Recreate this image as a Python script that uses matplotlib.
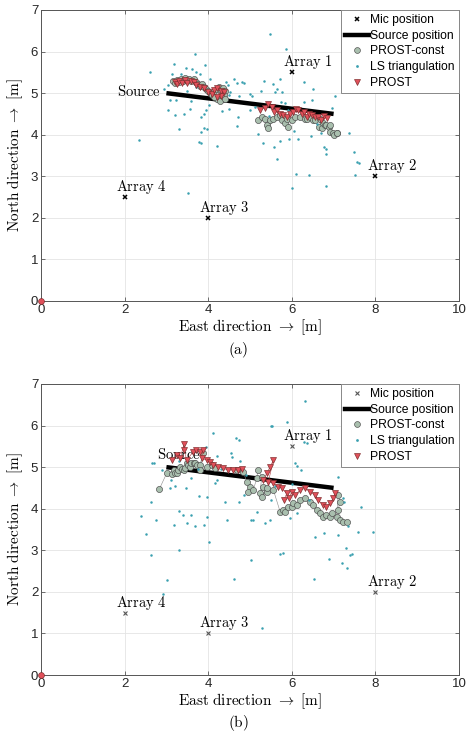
import matplotlib
matplotlib.use("Agg")
import matplotlib.pyplot as plt
import numpy as np
from matplotlib.lines import Line2D

plt.rcParams['mathtext.fontset'] = 'cm'
plt.rcParams['font.family'] = ['Liberation Sans', 'DejaVu Sans']

# ---------------- data ----------------
mic_x = [6, 8, 4, 2]
top_mic_y = [5.5, 3.0, 2.0, 2.5]
bot_mic_y = [5.5, 2.0, 1.0, 1.5]
array_names = ['Array 1', 'Array 2', 'Array 3', 'Array 4']

source_x = [3, 7]
source_y = [5.0, 4.5]

start_x = [0]
start_y = [0]

top_ls = [(5.48,6.43),(5.86,6.06),(3.68,5.94),(3.18,5.70),(3.93,5.67),(2.61,5.51),(3.46,5.61),(3.61,5.57),
          (3.72,5.51),(3.80,5.47),(3.05,5.19),(3.23,4.83),(3.09,4.83),(3.31,4.13),(2.35,3.88),(3.56,4.63),
          (3.43,4.49),(3.21,4.47),(3.82,4.42),(3.95,4.59),(3.91,4.51),(3.91,4.17),(3.98,4.13),(3.79,3.82),
          (3.83,3.79),(4.20,3.72),(3.52,2.59),(4.61,5.34),(4.68,5.25),(4.86,5.25),(4.43,5.26),(4.73,4.92),
          (4.99,4.98),(4.71,4.42),(4.70,4.21),(5.13,4.67),(5.27,5.06),(5.33,5.29),(5.54,5.23),(5.71,5.35),
          (5.61,5.03),(5.64,5.09),(5.77,5.03),(5.75,4.79),(5.84,4.76),(6.28,5.27),(6.48,4.83),(6.29,4.78),
          (7.03,4.93),(5.18,4.02),(5.31,3.81),(5.57,3.71),(5.65,3.41),(5.72,3.85),(5.93,3.89),(6.15,3.89),
          (6.09,3.05),(6.40,3.02),(6.00,2.72),(6.47,3.97),(6.83,2.76),(6.77,3.71),(6.81,3.65),(6.83,3.53),
          (7.38,4.05),(7.49,3.59),(7.55,3.35),(7.61,3.31),(7.50,3.03),(6.51,5.09),(3.35,5.45),(3.50,5.05),
          (3.70,5.15),(4.05,5.35),(4.50,4.95),(5.00,4.60),(5.45,4.45),(6.05,4.10),(6.60,4.25),(6.95,4.65),
          (3.05,4.60),(2.95,5.10),(3.60,4.80),(3.14,5.45),(4.50,4.62),(5.05,4.92),(5.90,4.60),(6.70,4.05),
          (3.83,4.07),(4.32,4.57),(4.03,4.71),(4.80,5.27),(4.52,5.03),(4.48,5.19)]
top_ls_x = [p[0] for p in top_ls]
top_ls_y = [p[1] for p in top_ls]

top_const_x = [3.15,3.20,3.25,3.30,3.35,3.40,3.45,3.50,3.55,3.60,3.65,3.70,3.75,3.80,3.85,3.90,3.95,4.00,
               4.05,4.10,4.15,4.20,4.25,4.30,4.35,4.40,4.38,4.30,4.22,4.15,4.28,4.40,
               5.20,5.28,5.36,5.40,5.48,5.44,5.56,5.64,5.72,5.76,5.84,5.88,5.92,6.00,6.08,6.20,6.32,
               6.36,6.44,6.51,6.56,6.64,6.67,6.72,6.75,6.80,6.83,6.88,6.91,6.92,6.99,7.00,7.07,7.08]
top_const_y = [5.30,5.25,5.32,5.28,5.34,5.30,5.36,5.31,5.35,5.29,5.33,5.27,5.22,5.18,5.22,5.15,5.10,5.05,
               5.00,4.95,5.05,5.10,5.14,5.08,5.12,5.05,4.95,4.90,4.85,4.90,4.80,4.85,
               4.35,4.43,4.39,4.23,4.35,4.15,4.39,4.43,4.47,4.35,4.27,4.39,4.19,4.35,4.43,4.43,4.39,
               4.39,4.43,4.35,4.35,4.19,4.39,4.15,4.27,4.23,4.23,4.19,4.23,4.07,4.03,3.99,4.03,4.03]
top_const_break = 32   # index where the track resumes after a gap

top_prost_x = [3.20,3.25,3.30,3.38,3.45,3.50,3.58,3.65,3.72,3.80,3.90,4.00,4.08,4.15,4.22,4.30,4.38,4.30,4.20,
               5.24,5.35,5.44,5.52,5.58,5.64,5.72,5.80,5.88,5.96,6.04,6.10,6.16,6.24,6.30,6.36,6.42,6.48,
               6.56,6.63,6.71,6.78,6.85]
top_prost_y = [5.28,5.22,5.30,5.25,5.32,5.25,5.30,5.28,5.20,5.15,5.12,5.02,4.98,5.08,5.12,5.05,5.02,4.92,4.90,
               4.59,4.65,4.75,4.67,4.55,4.59,4.51,4.47,4.43,4.50,4.55,4.62,4.59,4.51,4.55,4.43,4.50,4.47,
               4.42,4.43,4.35,4.45,4.40]
top_prost_break = 19

bot_ls = [(6.32,6.59),(5.89,6.08),(5.51,6.00),(4.74,5.65),(4.67,5.70),(4.12,5.83),(4.20,5.28),(4.55,5.33),
          (4.56,5.25),(4.76,5.14),(3.95,5.49),(2.65,5.09),(2.70,5.09),(2.89,4.94),(3.09,4.49),(3.21,4.54),
          (3.47,4.49),(2.62,4.17),(2.75,3.73),(2.39,3.82),(2.51,3.39),(3.17,3.61),(3.31,3.95),(3.40,3.85),
          (3.49,3.66),(3.58,3.85),(3.68,3.59),(3.79,4.30),(3.96,4.29),(3.91,3.61),(3.98,3.81),(4.03,3.19),
          (3.31,3.00),(2.63,2.88),(3.02,2.28),(2.93,1.96),(4.16,4.61),(4.20,4.69),(4.40,4.17),(4.46,3.73),
          (4.74,4.17),(4.86,4.33),(5.02,3.74),(5.08,3.73),(5.17,3.91),(5.37,3.65),(5.48,3.73),(5.02,2.77),
          (4.61,2.31),(5.72,2.91),(5.80,2.94),(5.96,3.77),(6.13,3.89),(6.08,5.09),(6.13,5.02),(6.21,4.93),
          (6.28,5.61),(6.36,5.58),(6.56,3.33),(6.77,3.41),(6.90,2.80),(7.11,3.37),(7.11,4.77),(7.22,4.25),
          (7.25,4.17),(7.35,3.59),(7.30,3.05),(7.39,2.88),(7.45,2.91),(7.19,2.70),(7.33,2.58),(7.59,3.44),
          (7.66,4.03),(7.94,3.44),(6.53,2.30),(5.29,1.13),(5.52,5.99),(3.30,5.15),(3.60,4.75),(4.30,4.95),
          (5.30,4.75),(5.60,4.55),(6.00,4.60),(6.40,4.20),(5.50,4.20),(4.90,4.80),(3.10,4.70),(3.75,4.95)]
bot_ls_x = [p[0] for p in bot_ls]
bot_ls_y = [p[1] for p in bot_ls]

bot_const_x = [2.83,3.01,3.13,3.17,3.21,3.25,3.28,3.33,3.37,3.41,3.44,3.49,3.52,3.57,3.60,3.65,3.68,3.73,3.80,3.88,3.80,3.96,4.08,4.16,
               4.68,4.84,4.92,5.00,4.96,5.08,5.16,5.20,5.28,5.24,5.32,5.40,5.28,5.40,5.56,
               5.72,5.80,5.84,5.92,6.00,6.04,6.12,6.20,6.32,6.44,6.51,6.60,6.67,6.75,6.83,6.91,6.95,7.07,7.11,7.15,7.11,7.15,7.23,7.31]
bot_const_y = [4.47,4.86,4.83,4.93,4.85,4.87,4.93,5.01,4.96,4.93,4.99,5.09,5.05,5.01,5.10,5.09,5.09,5.05,5.05,5.33,4.93,5.01,5.05,4.98,
               4.94,4.89,4.65,4.53,4.41,4.45,4.73,4.93,4.77,4.37,4.53,4.41,4.29,4.49,4.45,
               3.93,3.97,3.93,4.05,4.05,4.13,4.09,4.21,4.25,4.17,4.09,3.97,3.89,3.81,3.85,3.81,3.89,3.81,4.33,4.17,3.97,3.73,3.69,3.69]
bot_const_break = 24

bot_prost_x = [3.13,3.25,3.33,3.42,3.42,3.49,3.64,3.72,3.80,3.88,3.84,3.96,4.04,4.12,4.24,4.36,4.48,4.60,4.72,4.82,
               5.32,5.40,5.48,5.56,5.44,5.56,5.68,5.76,5.88,5.81,5.93,6.00,6.08,6.20,6.32,6.44,6.56,6.63,6.75,6.83,6.91,6.99,7.03]
bot_prost_y = [5.17,5.29,5.21,5.55,5.41,5.17,5.37,5.41,5.37,5.41,5.21,5.17,5.13,5.05,5.01,4.97,4.93,4.93,4.93,4.95,
               4.69,4.85,5.01,5.17,4.65,4.61,4.53,4.49,4.37,4.21,4.25,4.41,4.33,4.45,4.49,4.41,4.33,4.21,4.09,4.05,4.13,4.25,4.37]
bot_prost_break = 20

# ---------------- style ----------------
LS_COL = '#3AA0B0'
CONST_FACE = '#A9BFAE'
CONST_EDGE = '#4A4A4A'
PROST_FACE = '#E0505A'
PROST_EDGE = '#7A2A2A'
AX_COL = '#555555'

fig = plt.figure(figsize=(4.66, 7.38), dpi=100)
W, H = 466, 738
ax1 = fig.add_axes([41 / W, 1 - 301 / H, 418 / W, 291 / H])
ax2 = fig.add_axes([41 / W, 1 - 675 / H, 418 / W, 291 / H])


def draw(ax, mic_y, ls_x, ls_y, cx, cy, cbrk, px, py, pbrk, mic_col, mic_mew, text_pos, src_label_pos):
    ax.plot(mic_x, mic_y, 'x', color=mic_col, ms=3.3, mew=mic_mew, zorder=6)
    ax.plot(source_x, source_y, '-', color='black', lw=3.2, solid_capstyle='butt', zorder=3)
    ax.plot(cx[:cbrk], cy[:cbrk], '-', color='#8a8a8a', lw=0.4, zorder=4)
    ax.plot(cx[cbrk:], cy[cbrk:], '-', color='#8a8a8a', lw=0.4, zorder=4)
    ax.plot(cx, cy, 'o', mfc=CONST_FACE, mec=CONST_EDGE, mew=0.45, ms=4.4, ls='none', zorder=4)
    ax.plot(ls_x, ls_y, 'o', color=LS_COL, ms=1.8, mew=0, ls='none', zorder=5)
    ax.plot(px[:pbrk], py[:pbrk], '-', color='#b03a40', lw=0.4, zorder=6)
    ax.plot(px[pbrk:], py[pbrk:], '-', color='#b03a40', lw=0.4, zorder=6)
    ax.plot(px, py, 'v', mfc=PROST_FACE, mec=PROST_EDGE, mew=0.45, ms=4.4, ls='none', zorder=6)
    ax.plot(start_x, start_y, 'o', mfc=PROST_FACE, mec=PROST_EDGE, mew=0.45, ms=4.2, ls='none',
            zorder=7, clip_on=False)

    for name, mx, my in zip(array_names, mic_x, mic_y):
        ax.text(mx + text_pos[0], my + text_pos[1], r'$\mathrm{' + name.replace(' ', r'\ ') + '}$',
                fontsize=10.5, ha='left', va='center', zorder=8)
    ax.text(src_label_pos[0], src_label_pos[1], r'$\mathrm{Source}$', fontsize=10.5,
            ha='left', va='center', zorder=2)

    ax.set_xlim(0, 10)
    ax.set_ylim(0, 7)
    ax.set_xticks([0, 2, 4, 6, 8, 10])
    ax.set_yticks(range(0, 8))
    ax.grid(True, color='#e4e4e4', lw=0.6, zorder=0)
    ax.set_axisbelow(True)
    for s in ax.spines.values():
        s.set_color(AX_COL)
        s.set_linewidth(0.7)
    ax.tick_params(direction='in', length=3, width=0.6, color=AX_COL, labelsize=9.5,
                   labelcolor='#262626', top=True, right=True, pad=2)
    ax.set_xlabel(r'$\mathrm{East\ direction}\ \rightarrow\ [\mathrm{m}]$', fontsize=11, labelpad=1)
    ax.set_ylabel(r'$\mathrm{North\ direction}\ \rightarrow\ [\mathrm{m}]$', fontsize=11, labelpad=4)

    handles = [
        Line2D([], [], marker='x', color=mic_col, ls='none', ms=3.2, mew=mic_mew),
        Line2D([], [], color='black', lw=3.2),
        Line2D([], [], marker='o', mfc=CONST_FACE, mec=CONST_EDGE, mew=0.45, ms=4.2, ls='none'),
        Line2D([], [], marker='o', color=LS_COL, ms=2, mew=0, ls='none'),
        Line2D([], [], marker='v', mfc=PROST_FACE, mec=PROST_EDGE, mew=0.45, ms=4.2, ls='none'),
    ]
    labels = ['Mic position', 'Source position', 'PROST-const', 'LS triangulation', 'PROST']
    leg = ax.legend(handles, labels, loc='upper right', fontsize=8.7, frameon=True, fancybox=False,
                    framealpha=1, edgecolor='#888888', borderaxespad=0, handlelength=2.0,
                    handletextpad=0.1, labelspacing=0.3, borderpad=0.35, numpoints=1)
    leg.get_frame().set_linewidth(0.7)
    leg.set_zorder(10)


draw(ax1, top_mic_y, top_ls_x, top_ls_y, top_const_x, top_const_y, top_const_break,
     top_prost_x, top_prost_y, top_prost_break, 'black', 1.1, (-0.21, 0.24), (1.83, 5.03))
draw(ax2, bot_mic_y, bot_ls_x, bot_ls_y, bot_const_x, bot_const_y, bot_const_break,
     bot_prost_x, bot_prost_y, bot_prost_break, '#555555', 0.8, (-0.21, 0.24), (2.78, 5.30))

fig.text(238 / W, 1 - 350 / H, r'$\mathrm{(a)}$', fontsize=11, ha='center', va='center')
fig.text(238 / W, 1 - 723 / H, r'$\mathrm{(b)}$', fontsize=11, ha='center', va='center')

fig.savefig('out.png', dpi=100)
